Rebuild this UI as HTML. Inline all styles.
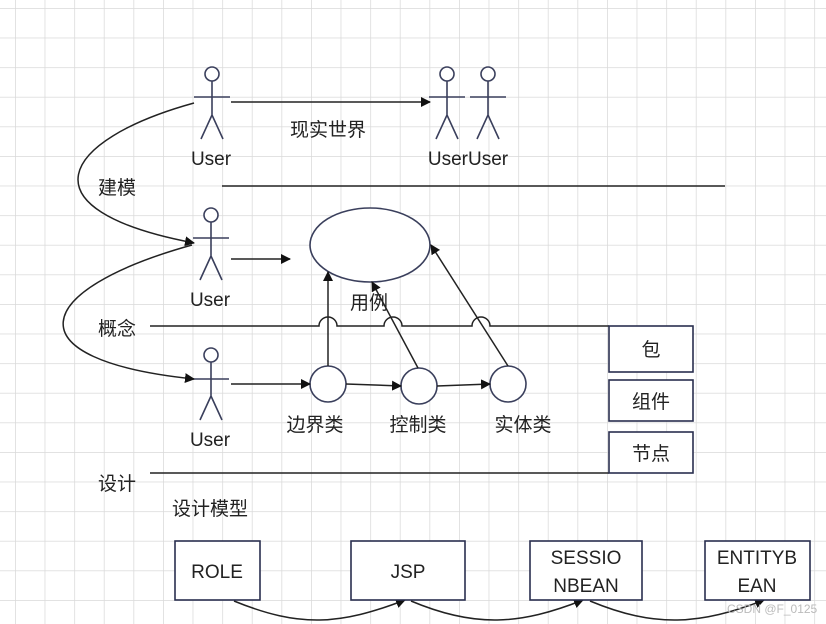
<!DOCTYPE html>
<html><head><meta charset="utf-8"><style>
html,body{margin:0;padding:0;background:#fff}
svg{display:block}
text{font-family:"Liberation Sans","Noto Sans CJK SC",sans-serif;font-size:19px;fill:#222}
</style></head><body>
<svg width="826" height="624" viewBox="0 0 826 624" xmlns="http://www.w3.org/2000/svg">
<defs>
<pattern id="g" x="15" y="8" width="29.6" height="29.6" patternUnits="userSpaceOnUse">
<path d="M0 0H29.6M0 0V29.6" stroke="#d9d9d9" stroke-width="1.5" fill="none"/>
</pattern>
<marker id="a" viewBox="0 0 10 10" refX="9" refY="5" markerWidth="10" markerHeight="10" orient="auto" markerUnits="userSpaceOnUse"><path d="M0 0L10 5L0 10z" fill="#111"/></marker>
</defs>
<rect width="826" height="624" fill="url(#g)"/>
<g stroke="#3a3f5c" stroke-width="1.6" fill="#fff">
<circle cx="212" cy="74" r="7"/><path d="M212 81V115M194 97H230M212 115L201 139M212 115L223 139" fill="none"/>
<circle cx="211" cy="215" r="7"/><path d="M211 222V256M193 238H229M211 256L200 280M211 256L222 280" fill="none"/>
<circle cx="211" cy="355" r="7"/><path d="M211 362V396M193 379H229M211 396L200 420M211 396L222 420" fill="none"/>
<circle cx="447" cy="74" r="7"/><path d="M447 81V115M429 97H465M447 115L436 139M447 115L458 139" fill="none"/>
<circle cx="488" cy="74" r="7"/><path d="M488 81V115M470 97H506M488 115L477 139M488 115L499 139" fill="none"/>
<ellipse cx="370" cy="245" rx="60" ry="37"/>
<circle cx="328" cy="384" r="18"/>
<circle cx="419" cy="386" r="18"/>
<circle cx="508" cy="384" r="18"/>
</g>
<g stroke="#222" stroke-width="1.5" fill="none">
<path d="M231 102H430" marker-end="url(#a)"/>
<path d="M222 186H725"/>
<path d="M231 259H290" marker-end="url(#a)"/>
<path d="M194 103C60 140,20 210,194 243" marker-end="url(#a)"/>
<path d="M192 245C30 290,10 360,194 379" marker-end="url(#a)"/>
<path d="M150 326H319A9 9 0 0 1 337 326H384A9 9 0 0 1 402 326H472A9 9 0 0 1 490 326H609"/>
<path d="M150 473H609"/>
<path d="M231 384H310" marker-end="url(#a)"/>
<path d="M346 384L401 386" marker-end="url(#a)"/>
<path d="M437 386L490 384" marker-end="url(#a)"/>
<path d="M328 366V272" marker-end="url(#a)"/>
<path d="M418 368L372 282" marker-end="url(#a)"/>
<path d="M508 366L431 245" marker-end="url(#a)"/>
<path d="M234 601C300 628,340 625,405 600" marker-end="url(#a)"/>
<path d="M411 601C475 628,520 625,583 600" marker-end="url(#a)"/>
<path d="M590 601C655 628,700 625,764 600" marker-end="url(#a)"/>
</g>
<g stroke="#2a2f4f" stroke-width="1.6" fill="#fff">
<rect x="609" y="326" width="84" height="46"/>
<rect x="609" y="380" width="84" height="41"/>
<rect x="609" y="432" width="84" height="41"/>
<rect x="175" y="541" width="85" height="59"/>
<rect x="351" y="541" width="114" height="59"/>
<rect x="530" y="541" width="112" height="59"/>
<rect x="705" y="541" width="105" height="59"/>
</g>
<g text-anchor="middle">
<text x="211" y="165">User</text>
<text x="210" y="306">User</text>
<text x="210" y="446">User</text>
<text x="468" y="165">UserUser</text>
<text x="328" y="136">现实世界</text>
<text x="369" y="309">用例</text>
<text x="315" y="431">边界类</text>
<text x="418" y="431">控制类</text>
<text x="523" y="431">实体类</text>
<text x="651" y="356">包</text>
<text x="651" y="408">组件</text>
<text x="651" y="460">节点</text>
<text x="217" y="578">ROLE</text>
<text x="408" y="578">JSP</text>
<text x="586" y="564">SESSIO</text>
<text x="586" y="592">NBEAN</text>
<text x="757" y="564">ENTITYB</text>
<text x="757" y="592">EAN</text>
</g>
<text x="98" y="194">建模</text>
<text x="98" y="335">概念</text>
<text x="98" y="490">设计</text>
<text x="172" y="515">设计模型</text>
<text x="727" y="613" style="font-size:12px;fill:#bbb">CSDN @F_0125</text>
</svg>
</body></html>
